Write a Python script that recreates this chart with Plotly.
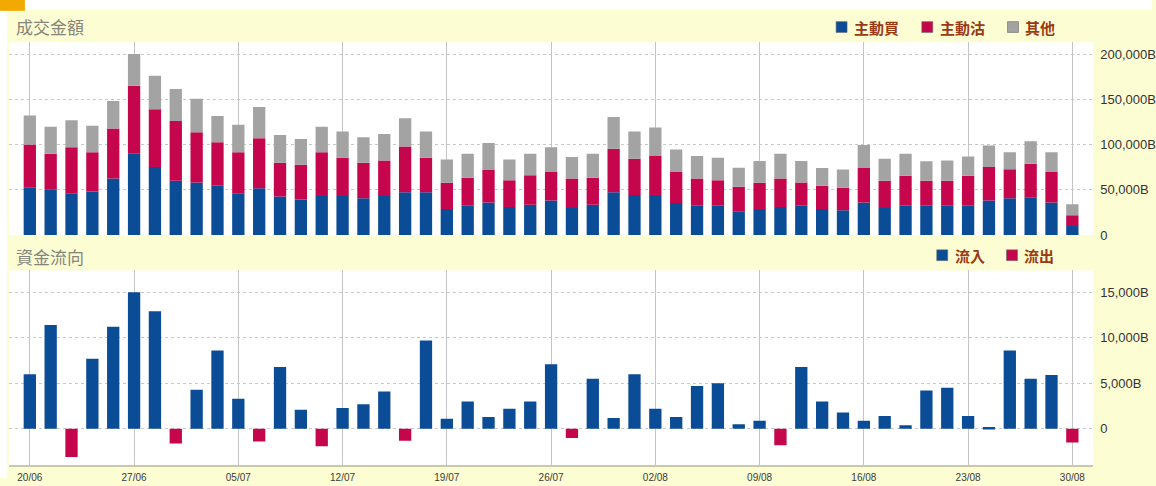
import plotly.graph_objects as go

# ---------------- data ----------------
dates = ["20/06", "21/06", "22/06", "23/06", "24/06", "27/06", "28/06", "29/06", "30/06",
         "04/07", "05/07", "06/07", "07/07", "08/07", "11/07", "12/07", "13/07", "14/07", "15/07",
         "18/07", "19/07", "20/07", "21/07", "22/07", "25/07", "26/07", "27/07", "28/07", "29/07",
         "01/08", "02/08", "03/08", "04/08", "05/08", "08/08", "09/08", "10/08", "11/08", "12/08",
         "15/08", "16/08", "17/08", "18/08", "19/08", "22/08", "23/08", "24/08", "25/08", "26/08",
         "29/08", "30/08"]

# turnover components (thousands of B)
active_buy = [52.7, 50.5, 46.2, 48.0, 62.5, 89.8, 75.3, 60.0, 58.2, 54.5,
              46.2, 51.6, 42.5, 39.3, 43.3, 43.3, 40.7, 43.3, 47.3, 47.3,
              28.7, 32.4, 36.0, 30.9, 33.5, 38.2, 29.8, 33.5, 47.3, 44.4,
              44.4, 35.3, 32.4, 32.4, 26.2, 28.7, 30.9, 32.4, 28.7, 27.3,
              36.0, 29.8, 32.4, 32.4, 32.4, 32.4, 38.2, 40.7, 41.8, 36.0,
              10.0]
active_sell = [47.3, 39.3, 50.9, 43.6, 55.3, 75.2, 63.6, 66.0, 55.3, 48.0,
               45.4, 55.3, 37.5, 38.5, 48.3, 42.2, 39.3, 39.2, 50.5, 38.2,
               29.1, 30.9, 36.4, 29.8, 32.7, 31.6, 32.7, 29.8, 48.0, 40.0,
               43.6, 34.5, 30.1, 28.3, 27.3, 29.1, 31.6, 25.8, 25.8, 25.1,
               38.2, 30.2, 33.1, 27.6, 27.6, 33.1, 37.1, 32.0, 37.1, 33.8,
               12.0]
other = [32.0, 29.8, 29.8, 29.1, 30.2, 35.0, 37.1, 35.5, 37.0, 29.1,
         30.2, 34.6, 30.5, 28.4, 28.0, 29.0, 28.0, 29.1, 31.3, 29.0,
         25.8, 26.5, 29.4, 22.9, 23.6, 27.3, 23.7, 26.5, 35.2, 30.1,
         30.9, 24.7, 24.8, 24.8, 21.0, 24.0, 27.3, 23.6, 19.7, 20.0,
         25.4, 24.4, 24.3, 21.5, 22.5, 21.4, 23.6, 18.9, 24.7, 21.8,
         12.0]

# net money flow (thousands of B)
net_flow = [6.0, 11.4, -3.1, 7.7, 11.2, 15.0, 12.9, -1.6, 4.3, 8.6,
            3.3, -1.4, 6.8, 2.1, -1.9, 2.3, 2.7, 4.1, -1.3, 9.7,
            1.1, 3.0, 1.3, 2.2, 3.0, 7.1, -1.0, 5.5, 1.2, 6.0,
            2.2, 1.3, 4.7, 5.0, 0.5, 0.9, -1.8, 6.8, 3.0, 1.8,
            0.9, 1.4, 0.4, 4.2, 4.5, 1.4, 0.2, 8.6, 5.5, 5.9,
            -1.5]

tick_dates = dates[::5]
top_tick_vals = [0, 50, 100, 150, 200]
top_tick_text = ["0", "50,000B", "100,000B", "150,000B", "200,000B"]
bot_tick_vals = [0, 5, 10, 15]
bot_tick_text = ["0", "5,000B", "10,000B", "15,000B"]

top_series_names = ["主動買", "主動沽", "其他"]
bot_series_names = ["流入", "流出"]

inflow = [v if v > 0 else None for v in net_flow]
outflow = [v if v < 0 else None for v in net_flow]

# ---------------- styling ----------------
W, H = 1156, 486
BLUE = "#0B4C97"
RED = "#C5064C"
GRAY = "#A3A3A3"
BG = "#FDFDD4"
LEG_COLOR = "#9A3A12"
TITLE_COLOR = "#85857A"
CJK = "Noto Sans CJK TC"


def px_x(x):
    return x / W


def px_y(y):
    return 1 - y / H


fig = go.Figure()
fig.add_trace(go.Bar(x=dates, y=active_buy, name=top_series_names[0], marker_color=BLUE,
                     xaxis="x", yaxis="y"))
fig.add_trace(go.Bar(x=dates, y=active_sell, name=top_series_names[1], marker_color=RED,
                     xaxis="x", yaxis="y"))
fig.add_trace(go.Bar(x=dates, y=other, name=top_series_names[2], marker_color=GRAY,
                     xaxis="x", yaxis="y"))
fig.add_trace(go.Bar(x=dates, y=inflow, name=bot_series_names[0], marker_color=BLUE,
                     xaxis="x2", yaxis="y2"))
fig.add_trace(go.Bar(x=dates, y=outflow, name=bot_series_names[1], marker_color=RED,
                     xaxis="x2", yaxis="y2"))

for tr in fig.data:
    tr.marker.line.width = 0

xdom = [px_x(9), px_x(1097)]
tick_font = dict(family="Liberation Sans", size=13, color="#333333")
xtick_font = dict(family="Liberation Sans", size=10, color="#3A3A3A")
leg_font = dict(family=CJK, size=15, color=LEG_COLOR, weight="bold")

# custom legend (swatch squares + labels)
shapes = [
    dict(type="rect", xref="paper", yref="paper", x0=0, x1=1,
         y0=px_y(10), y1=1, fillcolor="white", line_width=0, layer="below"),
    dict(type="rect", xref="paper", yref="paper", x0=0, x1=px_x(7),
         y0=0, y1=1, fillcolor="white", line_width=0, layer="below"),
    dict(type="rect", xref="paper", yref="paper", x0=0, x1=px_x(25),
         y0=px_y(11), y1=1, fillcolor="#F2A900", line_width=0, layer="below"),
]
annotations = [
    dict(text="成交金額", x=px_x(14), y=px_y(27), xref="paper", yref="paper",
         xanchor="left", yanchor="middle", showarrow=False,
         font=dict(family=CJK, size=17, color=TITLE_COLOR)),
    dict(text="資金流向", x=px_x(14), y=px_y(261), xref="paper", yref="paper",
         xanchor="left", yanchor="middle", showarrow=False,
         font=dict(family=CJK, size=17, color=TITLE_COLOR)),
]

legend_items = [
    (top_series_names[0], BLUE, 839, 27.5),
    (top_series_names[1], RED, 925, 27.5),
    (top_series_names[2], GRAY, 1011, 27.5),
    (bot_series_names[0], BLUE, 940, 259.5),
    (bot_series_names[1], RED, 1010, 259.5),
]
for name, color, sx, cy in legend_items:
    shapes.append(dict(type="rect", xref="paper", yref="paper",
                       x0=px_x(sx), x1=px_x(sx + 11),
                       y0=px_y(cy + 5.5), y1=px_y(cy - 5.5),
                       fillcolor=color, line=dict(color="#6A6A6A", width=0.6),
                       layer="above"))
    annotations.append(dict(text=name, x=px_x(sx + 16), y=px_y(cy), xref="paper",
                            yref="paper", xanchor="left", yanchor="middle",
                            showarrow=False, font=leg_font))

fig.update_layout(
    width=W, height=H,
    margin=dict(l=0, r=0, t=0, b=0),
    paper_bgcolor=BG,
    plot_bgcolor="white",
    barmode="relative",
    bargap=0.41,
    showlegend=False,
    xaxis=dict(domain=xdom, anchor="y", type="category", range=[-1, 51],
               tickmode="array", tickvals=tick_dates, showticklabels=False,
               showgrid=True, gridcolor="#C4C4C4", gridwidth=1, ticks="",
               showline=False, zeroline=False),
    yaxis=dict(domain=[px_y(239), px_y(43)], anchor="x", side="right",
               range=[0, 213], tickmode="array", tickvals=top_tick_vals,
               ticktext=top_tick_text, showgrid=True, gridcolor="#C8C8C8",
               griddash="dot", zeroline=False, ticks="", tickfont=tick_font,
               ticklabelstandoff=6, showline=False),
    xaxis2=dict(domain=xdom, anchor="y2", type="category", range=[-1, 51],
                tickmode="array", tickvals=tick_dates, ticktext=tick_dates,
                showgrid=True, gridcolor="#C4C4C4", gridwidth=1, ticks="",
                showline=True, linecolor="#C9C9A8", linewidth=2,
                zeroline=False, tickfont=xtick_font, ticklabelstandoff=2),
    yaxis2=dict(domain=[px_y(473), px_y(275)], anchor="x2", side="right",
                range=[-3.995, 17.39], tickmode="array", tickvals=bot_tick_vals,
                ticktext=bot_tick_text, showgrid=True, gridcolor="#C8C8C8",
                griddash="dot", zeroline=False, ticks="", tickfont=tick_font,
                ticklabelstandoff=6, showline=False),
    shapes=shapes,
    annotations=annotations,
)

fig.write_html("out.html",
               config={"displayModeBar": False},
               post_script="document.body.style.margin='0';"
                           "document.body.style.overflow='hidden';")
